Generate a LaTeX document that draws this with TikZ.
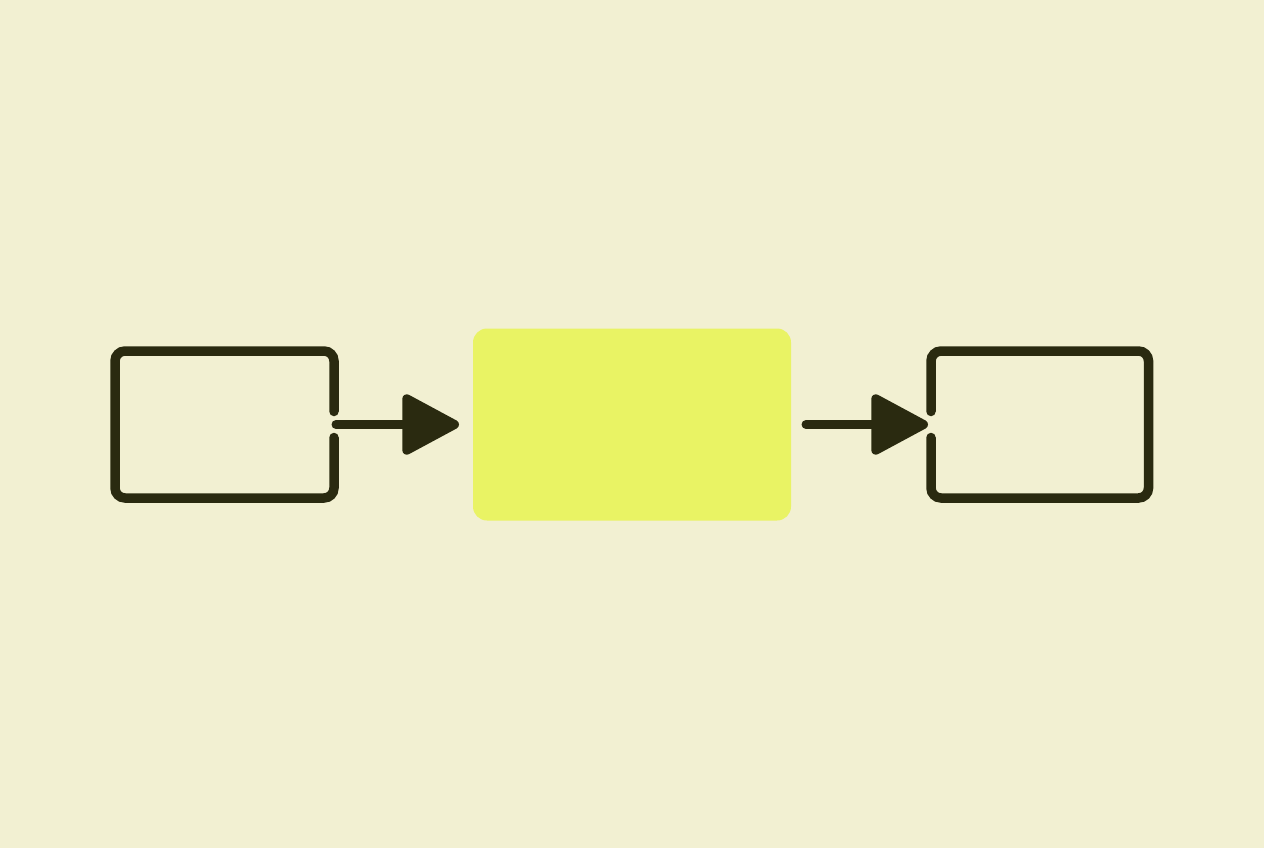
\documentclass[tikz,border=0pt]{standalone}
\usetikzlibrary{arrows.meta}

\definecolor{paper}{HTML}{F2F0D2}
\definecolor{ink}{HTML}{2A2A10}
\definecolor{lime}{HTML}{E9F364}

\newcommand{\OpenBoxEast}[2]{% node, half gap
  \draw[boxline] ([yshift=#2]#1.east) -- (#1.north east) -- (#1.north west)
    -- (#1.south west) -- (#1.south east) -- ([yshift=-#2]#1.east);
}
\newcommand{\OpenBoxWest}[2]{% node, half gap
  \draw[boxline] ([yshift=#2]#1.west) -- (#1.north west) -- (#1.north east)
    -- (#1.south east) -- (#1.south west) -- ([yshift=-#2]#1.west);
}

\begin{document}
\begin{tikzpicture}[x=1pt,y=-1pt,
    frame/.style={minimum width=219pt,minimum height=147pt,inner sep=0pt,outer sep=0pt},
    boxline/.style={draw=ink,line width=9.5pt,rounded corners=10pt,line cap=round},
    flow/.style={draw=ink,line width=9pt,line cap=round,
      -{Triangle[length=62pt,width=64pt,round]}}]
  \pgfmathsetmacro{\MidY}{424.5};
  \pgfmathsetmacro{\GapHalf}{13};
  %
  \fill[paper] (0,0) rectangle (1264,848);
  \useasboundingbox (0,0) rectangle (1264,848);
  %
  \node[frame] (src) at (224.5,\MidY) {};
  \node[fill=lime,rounded corners=14pt,minimum width=318pt,minimum height=192pt,
    inner sep=0pt,outer sep=0pt] (core) at (632,\MidY) {};
  \node[frame,minimum width=217.5pt] (dst) at (1039.75,\MidY) {};
  %
  \OpenBoxEast{src}{\GapHalf pt}
  \OpenBoxWest{dst}{\GapHalf pt}
  %
  \draw[flow,shorten <=2pt,shorten >=14pt] (src.east) -- (core.west);
  \draw[flow,shorten <=15pt,shorten >=3pt] (core.east) -- (dst.west);
\end{tikzpicture}
\end{document}
